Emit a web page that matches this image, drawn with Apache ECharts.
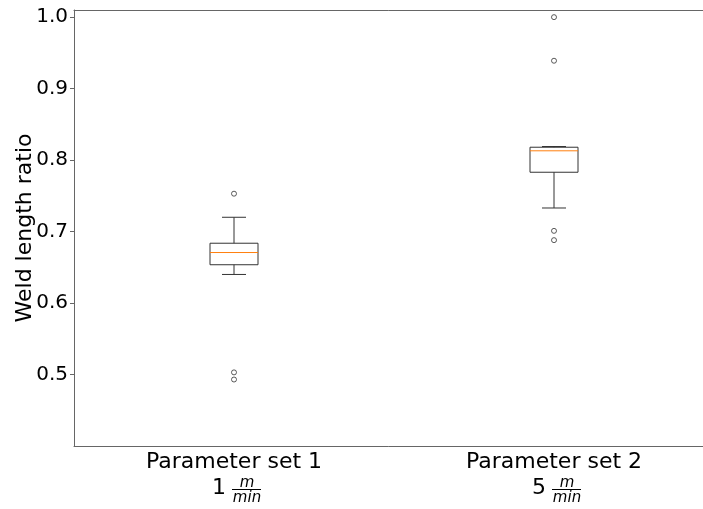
<!DOCTYPE html>
<html>
<head>
<meta charset="utf-8">
<script src="https://cdn.jsdelivr.net/npm/echarts@6/dist/echarts.min.js"></script>
<style>html,body{margin:0;padding:0;background:#fff;}#c{width:703px;height:509px;}</style>
</head>
<body>
<div id="c"></div>
<script>
const categories = ['Parameter set 1', 'Parameter set 2'];
const speedValues = ['1', '5'];
const lowerWhisker = [0.640, 0.733];
const q1 = [0.6536, 0.783];
const median = [0.6707, 0.813];
const q3 = [0.6837, 0.818];
const upperWhisker = [0.720, 0.819];
const outliers = [[0, 0.753], [0, 0.503], [0, 0.493], [1, 1.0], [1, 0.939], [1, 0.701], [1, 0.688]];
const yTicks = [0.5, 0.6, 0.7, 0.8, 0.9, 1.0];

const FONT = 'DejaVu Sans';
const chart = echarts.init(document.getElementById('c'), null, {renderer: 'canvas'});
const boxData = categories.map((c, i) => [i, lowerWhisker[i], q1[i], median[i], q3[i], upperWhisker[i]]);

const option = {
  animation: false,
  grid: {left: 74, top: 10, width: 640, height: 436, containLabel: false, outerBoundsMode: 'none', show: false},
  xAxis: [{
    type: 'category', data: categories, boundaryGap: true,
    axisLine: {lineStyle: {color: '#666', width: 1}},
    axisTick: {alignWithLabel: true, length: 4, lineStyle: {color: '#666'}},
    axisLabel: {color: '#000', fontFamily: FONT, fontSize: 22, margin: 5}
  }, {
    type: 'category', data: categories, position: 'top',
    axisLine: {show: true, lineStyle: {color: '#666', width: 1}},
    axisTick: {show: false}, axisLabel: {show: false}
  }],
  yAxis: {
    type: 'value', min: 0.4, max: 1.01,
    name: 'Weld length ratio', nameLocation: 'middle', nameGap: 38, nameRotate: 90, nameMoveOverlap: false,
    nameTextStyle: {color: '#000', fontFamily: FONT, fontSize: 22},
    splitLine: {show: false},
    axisLine: {show: true, lineStyle: {color: '#666', width: 1}},
    axisTick: {show: true, length: 4, customValues: yTicks, lineStyle: {color: '#666'}},
    axisLabel: {color: '#000', fontFamily: FONT, fontSize: 20, margin: 6, customValues: yTicks,
      formatter: v => v.toFixed(1)}
  },
  series: [
    {
      type: 'custom', data: boxData, encode: {x: 0, y: [1, 2, 3, 4, 5]},
      renderItem: function (params, api) {
        const i = api.value(0);
        const band = api.size([1, 0])[0];
        const hw = band * 0.075;
        const cw = hw / 2;
        const cx = api.coord([i, api.value(3)])[0];
        const yLw = api.coord([i, api.value(1)])[1];
        const yQ1 = api.coord([i, api.value(2)])[1];
        const yMed = api.coord([i, api.value(3)])[1];
        const yQ3 = api.coord([i, api.value(4)])[1];
        const yUw = api.coord([i, api.value(5)])[1];
        const st = {stroke: '#333', lineWidth: 1, fill: null};
        return {
          type: 'group',
          children: [
            {type: 'rect', shape: {x: cx - hw, y: yQ3, width: 2 * hw, height: yQ1 - yQ3}, style: st},
            {type: 'line', shape: {x1: cx, y1: yQ1, x2: cx, y2: yLw}, style: st},
            {type: 'line', shape: {x1: cx, y1: yQ3, x2: cx, y2: yUw}, style: st},
            {type: 'line', shape: {x1: cx - cw, y1: yLw, x2: cx + cw, y2: yLw}, style: st},
            {type: 'line', shape: {x1: cx - cw, y1: yUw, x2: cx + cw, y2: yUw}, style: st},
            {type: 'line', shape: {x1: cx - hw, y1: yMed, x2: cx + hw, y2: yMed}, style: {stroke: '#ff7f0e', lineWidth: 1}}
          ]
        };
      }
    },
    {
      type: 'scatter', data: outliers, symbol: 'circle', symbolSize: 5,
      itemStyle: {color: '#fff', borderColor: '#333', borderWidth: 1}
    }
  ]
};
chart.setOption(option);

const graphics = [];
categories.forEach((c, i) => {
  const cx = chart.convertToPixel({xAxisIndex: 0}, i);
  graphics.push({type: 'text', left: cx - 22, top: 477, style: {text: speedValues[i], font: '22px "DejaVu Sans"', fill: '#000'}});
  graphics.push({type: 'text', x: cx + 13, y: 483, style: {text: 'm', font: 'italic 15px "DejaVu Sans"', fill: '#000', align: 'center', verticalAlign: 'middle'}});
  graphics.push({type: 'line', shape: {x1: cx - 2, y1: 489.5, x2: cx + 27, y2: 489.5}, style: {stroke: '#000', lineWidth: 1}});
  graphics.push({type: 'text', x: cx + 13, y: 498, style: {text: 'min', font: 'italic 15px "DejaVu Sans"', fill: '#000', align: 'center', verticalAlign: 'middle'}});
});
chart.setOption({graphic: graphics});
</script>
</body>
</html>
